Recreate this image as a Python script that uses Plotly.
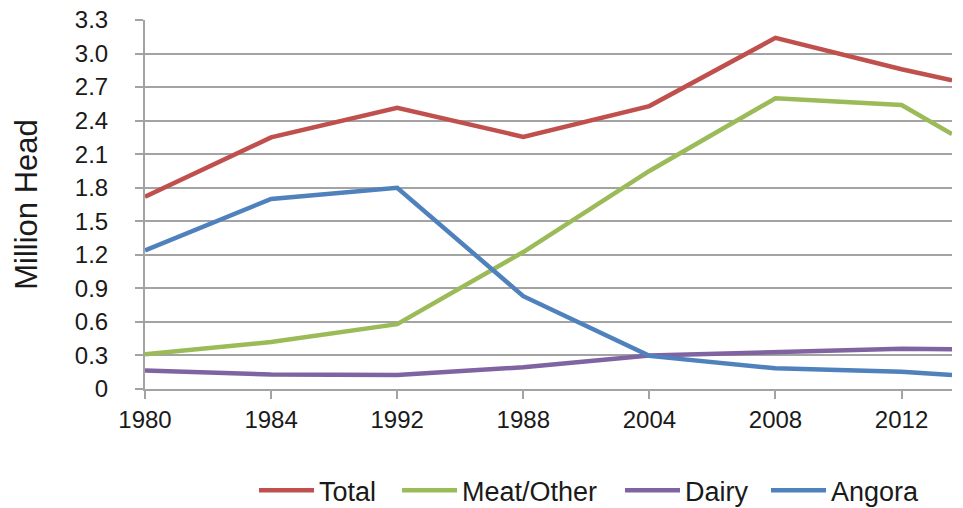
import plotly.graph_objects as go

# Category labels along the x axis and the slot index of each sample
year_labels = ["1980", "1984", "1992", "1988", "2004", "2008", "2012"]
slot_index = [0, 1, 2, 3, 4, 5, 6, 6.4]

# Goat inventory, million head
total = [1.72, 2.25, 2.515, 2.255, 2.53, 3.14, 2.86, 2.76]
meat_other = [0.31, 0.42, 0.58, 1.225, 1.95, 2.60, 2.54, 2.28]
dairy = [0.165, 0.13, 0.125, 0.195, 0.30, 0.33, 0.36, 0.355]
angora = [1.24, 1.70, 1.80, 0.83, 0.296, 0.185, 0.155, 0.125]

y_ticks = [0, 0.3, 0.6, 0.9, 1.2, 1.5, 1.8, 2.1, 2.4, 2.7, 3.0, 3.3]
y_tick_text = ["0", "0.3", "0.6", "0.9", "1.2", "1.5", "1.8", "2.1", "2.4", "2.7", "3.0", "3.3"]

series = [
    ("Total", total, "#C0504D"),
    ("Meat/Other", meat_other, "#9BBB59"),
    ("Dairy", dairy, "#8064A2"),
    ("Angora", angora, "#4F81BD"),
]

FONT = "Liberation Sans, Arial, Helvetica, sans-serif"
GRID = "#A3A3A3"

# one legend box per series so each key sits at its own spot along the bottom row
legend_ids = ["legend", "legend2", "legend3", "legend4"]
legend_x = [0.1351, 0.3123, 0.5886, 0.7695]

fig = go.Figure()
for (name, vals, color), lg in zip(series, legend_ids):
    fig.add_trace(go.Scatter(
        x=slot_index, y=vals, name=name, mode="lines",
        line=dict(color=color, width=4.5),
        legend=lg,
    ))

legend_style = dict(
    orientation="h",
    xref="paper", xanchor="left",
    yref="container", y=0.034, yanchor="middle",
    font=dict(size=27, color="#1A1A1A"),
    itemwidth=55,
    bgcolor="rgba(0,0,0,0)",
)
for lg, lx in zip(legend_ids, legend_x):
    fig.update_layout({lg: dict(legend_style, x=lx)})

fig.update_layout(
    width=963, height=508,
    margin=dict(l=145, r=11, t=20, b=119, autoexpand=False),
    paper_bgcolor="white", plot_bgcolor="white",
    font=dict(family=FONT, size=24, color="#1A1A1A"),
    showlegend=True,
    xaxis=dict(
        range=[0, 6.4],
        tickmode="array", tickvals=list(range(len(year_labels))), ticktext=year_labels,
        showgrid=False, zeroline=False,
        showline=True, linecolor=GRID, linewidth=2,
        ticks="outside", ticklen=8, tickwidth=2, tickcolor=GRID,
        tickfont=dict(size=24),
    ),
    yaxis=dict(
        range=[0, 3.3],
        tickmode="array", tickvals=y_ticks, ticktext=y_tick_text,
        showgrid=True, gridcolor=GRID, gridwidth=2,
        zeroline=False,
        showline=True, linecolor=GRID, linewidth=2,
        ticks="outside", ticklen=8, tickwidth=2, tickcolor=GRID,
        tickfont=dict(size=24),
        ticklabelstandoff=22,
        title=dict(text="Million Head", font=dict(size=31), standoff=28),
    ),
)

fig.write_html("out.html")
